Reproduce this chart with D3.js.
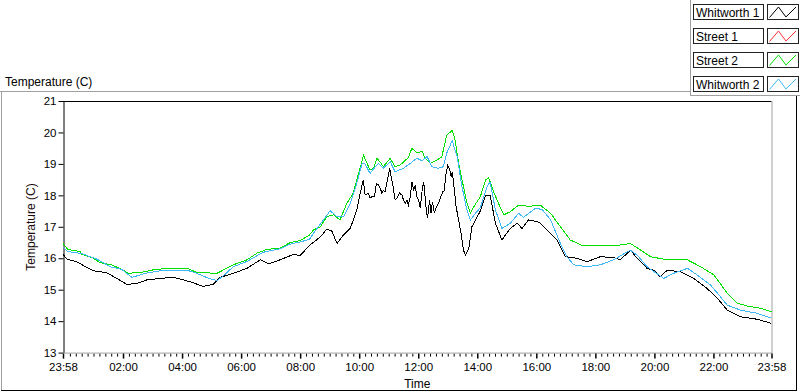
<!DOCTYPE html>
<html><head><meta charset="utf-8">
<script src="https://cdn.jsdelivr.net/npm/d3@7"></script>
<style>
html,body{margin:0;padding:0;background:#fff;}
svg{display:block;font-family:"Liberation Sans",Arial,sans-serif;}
</style></head>
<body>
<svg id="chart" width="800" height="392"></svg>
<script>
// ---- data (minutes since 23:58 start, temperature in C) ----
const seriesNames = ["Whitworth 1", "Street 1", "Street 2", "Whitworth 2"];
const seriesColors = ["#000000", "#ff3030", "#00e000", "#40b8f8"];
const yTicks = [13, 14, 15, 16, 17, 18, 19, 20, 21];
const xTickLabels = ["23:58","02:00","04:00","06:00","08:00","10:00","12:00","14:00","16:00","18:00","20:00","22:00","23:58"];

const whitworth1Times = [0,8,28,48,62,89,109,130,150,170,197,224,245,265,285,306,319,346,374,401,418,441,468,482,502,523,536,546,557,570,584,590,597,601,604,610,612,614,621,624,628,633,637,641,645,648,651,655,658,664,667,671,675,679,684,689,692,696,699,702,706,709,713,716,719,723,726,730,733,736,738,741,745,748,751,755,759,763,768,772,775,778,782,786,789,791,794,799,804,809,814,818,825,831,842,848,859,868,879,892,909,923,933,946,967,984,1004,1021,1045,1065,1092,1119,1133,1153,1167,1187,1201,1214,1228,1255,1282,1309,1330,1350,1377,1411,1440];
const whitworth1Values = [16.12,15.97,15.89,15.71,15.60,15.54,15.36,15.17,15.20,15.31,15.36,15.39,15.31,15.22,15.10,15.18,15.39,15.52,15.68,15.95,15.82,15.95,16.12,16.09,16.42,16.68,16.92,16.88,16.47,16.74,16.95,17.22,17.53,17.85,18.07,18.47,18.28,18.01,18.07,17.91,17.96,17.96,18.38,18.33,18.22,18.07,18.15,18.12,18.38,18.86,18.59,18.28,17.85,17.91,18.07,18.01,17.85,17.75,17.85,17.69,17.96,18.43,18.17,18.33,17.96,17.85,17.59,18.17,18.43,17.96,17.59,17.27,17.85,17.43,17.80,17.43,17.64,17.75,17.96,18.12,18.15,18.65,18.96,18.81,18.59,18.75,18.38,17.64,17.22,16.79,16.26,16.10,16.32,17.0,17.32,17.50,18.01,18.01,17.11,16.58,16.95,17.11,16.95,17.22,17.15,16.90,16.58,16.05,16.0,15.89,16.05,16.02,15.95,16.26,16.0,15.68,15.62,15.41,15.62,15.57,15.36,15.04,14.73,14.35,14.14,14.06,13.93];

const street1Times = [];
const street1Values = [];

const street2Times = [0,10,35,38,62,75,99,119,133,167,183,211,252,272,313,325,346,374,394,414,441,462,482,501,509,523,536,550,563,577,590,597,608,611,614,624,631,638,645,651,665,675,685,696,702,709,719,730,736,746,760,770,780,791,797,804,814,821,828,835,848,859,865,875,885,896,909,926,946,970,991,1011,1031,1058,1092,1119,1153,1174,1194,1228,1269,1296,1323,1350,1370,1391,1418,1440];
const street2Values = [16.47,16.28,16.21,16.13,16.0,15.86,15.79,15.65,15.52,15.57,15.63,15.68,15.68,15.55,15.52,15.62,15.79,15.95,16.16,16.28,16.32,16.50,16.56,16.74,16.90,17.0,17.32,17.38,17.22,17.75,18.07,18.49,19.10,19.28,19.15,18.81,18.85,19.18,19.05,18.91,19.18,18.91,18.96,19.12,19.20,19.50,19.35,19.40,19.18,19.02,19.12,19.23,19.92,20.06,19.76,19.02,18.27,17.75,17.43,17.64,17.95,18.49,18.57,18.12,17.75,17.38,17.48,17.69,17.65,17.69,17.43,17.0,16.58,16.39,16.42,16.39,16.47,16.26,16.05,15.95,15.95,15.73,15.47,14.89,14.57,14.48,14.41,14.30];

const whitworth2Times = [0,10,38,69,96,119,140,167,204,252,272,296,313,326,346,374,407,441,462,482,501,509,543,557,570,584,597,608,614,624,635,641,651,665,675,692,706,719,730,740,750,763,773,780,791,801,811,821,828,838,848,862,868,879,892,909,926,936,960,974,991,1011,1024,1038,1065,1092,1119,1153,1167,1187,1221,1241,1269,1289,1316,1336,1350,1377,1411,1440];
const whitworth2Values = [16.36,16.21,16.15,15.97,15.73,15.65,15.39,15.52,15.62,15.62,15.52,15.36,15.29,15.44,15.73,15.90,16.19,16.30,16.45,16.52,16.60,16.79,17.51,17.32,17.32,17.75,18.38,19.02,19.0,18.70,18.91,19.02,18.86,19.07,18.75,18.86,19.02,19.18,19.10,19.23,18.91,18.86,18.91,19.34,19.74,19.23,18.27,17.53,17.22,17.43,17.60,18.27,18.43,17.53,16.95,17.11,17.43,17.30,17.59,17.55,17.22,16.47,16.05,15.79,15.73,15.79,15.95,16.26,16.10,15.73,15.36,15.52,15.68,15.47,15.15,14.78,14.51,14.35,14.25,14.09];

const seriesTimes = [whitworth1Times, street1Times, street2Times, whitworth2Times];
const seriesValues = [whitworth1Values, street1Values, street2Values, whitworth2Values];

// ---- layout ----
const svg = d3.select("#chart");
const plotL = 63, plotR = 771.5, plotT = 101, plotB = 352.6;
const start = new Date(2000, 0, 1, 23, 58);
const end = new Date(+start + 1440 * 60000);
const toDate = m => new Date(+start + m * 60000);

const x = d3.scaleTime().domain([start, end]).range([plotL, plotR]);
const y = d3.scaleLinear().domain([13, 21]).range([plotB, plotT]);

// outer frame
svg.append("line").attr("x1",0).attr("x2",690).attr("y1",91.5).attr("y2",91.5).attr("stroke","#a0a0a0");
svg.append("line").attr("x1",1.5).attr("x2",1.5).attr("y1",91).attr("y2",391).attr("stroke","#a0a0a0");
svg.append("line").attr("x1",1).attr("x2",797).attr("y1",390.5).attr("y2",390.5).attr("stroke","#000");
svg.append("line").attr("x1",796.5).attr("x2",796.5).attr("y1",95).attr("y2",391).attr("stroke","#000");
svg.append("line").attr("x1",690.5).attr("x2",690.5).attr("y1",0).attr("y2",96).attr("stroke","#a0a0a0");
svg.append("line").attr("x1",690).attr("x2",800).attr("y1",95.5).attr("y2",95.5).attr("stroke","#a0a0a0");

// chart title
svg.append("text").attr("x",5).attr("y",86).attr("font-size",12).attr("fill","#000").text("Temperature (C)");

// plot background & borders
svg.append("rect").attr("x",plotL).attr("y",plotT).attr("width",plotR-plotL).attr("height",plotB-plotT).attr("fill","#fff");
svg.append("line").attr("x1",plotL).attr("x2",plotR).attr("y1",plotT+0.5).attr("y2",plotT+0.5).attr("stroke","#000");
svg.append("line").attr("x1",plotR+0.5).attr("x2",plotR+0.5).attr("y1",plotT).attr("y2",plotB+1).attr("stroke","#a0a0a0");

// y axis
const yAxis = svg.append("g").attr("transform",`translate(${plotL+0.5},0)`)
  .call(d3.axisLeft(y).tickValues(yTicks).tickSize(5).tickSizeOuter(0).tickPadding(2).tickFormat(d3.format("d")));
yAxis.select(".domain").attr("stroke","#000");
yAxis.selectAll(".tick line").attr("stroke","#000");
yAxis.selectAll("text").attr("font-size",11.5).attr("fill","#000").attr("font-family","Liberation Sans, Arial, sans-serif");

svg.append("text").attr("transform","translate(35,227) rotate(-90)").attr("text-anchor","middle")
  .attr("font-size",12).attr("fill","#1a0a0a").text("Temperature (C)");

// x axis
const majorDates = [start];
for (let h = 2; h <= 22; h += 2) majorDates.push(new Date(2000, 0, 2, h, 0));
majorDates.push(end);
const minorDates = d3.timeMinute.every(12).range(start, end)
  .filter(d => majorDates.every(m => Math.abs(d - m) > 4 * 60000));

const xMinor = svg.append("g").attr("transform",`translate(0,${plotB})`)
  .call(d3.axisBottom(x).tickValues(minorDates).tickSize(3).tickSizeOuter(0).tickFormat(""));
xMinor.select(".domain").remove();
xMinor.selectAll(".tick line").attr("stroke","#000").attr("transform","translate(0,1)");

const xAxis = svg.append("g").attr("transform",`translate(0,${plotB})`)
  .call(d3.axisBottom(x).tickValues(majorDates).tickSize(5).tickSizeOuter(0).tickPadding(5)
    .tickFormat((d, i) => xTickLabels[i]));
xAxis.select(".domain").attr("stroke","#a0a0a0");
xAxis.selectAll(".tick line").attr("stroke","#000").attr("stroke-width",1.5).attr("transform","translate(0,1)");
xAxis.selectAll("text").attr("font-size",11.5).attr("fill","#000").attr("font-family","Liberation Sans, Arial, sans-serif");

svg.append("text").attr("x",(plotL+plotR)/2).attr("y",388).attr("text-anchor","middle")
  .attr("font-size",12).attr("fill","#000").text("Time");

// lines
const line = d3.line().x(d => x(toDate(d[0]))).y(d => y(d[1]));
const plotG = svg.append("g");
seriesNames.forEach((name, i) => {
  const pts = seriesTimes[i].map((t, j) => [t, seriesValues[i][j]]);
  if (!pts.length) return;
  plotG.append("path").datum(pts).attr("d", line)
    .attr("fill","none").attr("stroke",seriesColors[i]).attr("stroke-width",1)
    .attr("shape-rendering","crispEdges");
});

// legend
const lg = svg.append("g");
seriesNames.forEach((name, i) => {
  const ty = 4 + i * 24;
  lg.append("rect").attr("x",693.5).attr("y",ty+0.5).attr("width",70).attr("height",15)
    .attr("fill","#fff").attr("stroke","#222");
  lg.append("text").attr("x",696).attr("y",ty+12.5).attr("font-size",12).attr("fill","#000").text(name);
  lg.append("rect").attr("x",767.5).attr("y",ty+0.5).attr("width",31).attr("height",15)
    .attr("fill","#fff").attr("stroke","#222");
  const ix = d3.scaleLinear().domain([0,1]).range([769.5, 796]);
  const iy = d3.scaleLinear().domain([0,1]).range([ty+13.5, ty+3]);
  const icon = [[0,0],[0.34,1],[0.62,0.05],[1,1]];
  lg.append("path").attr("d", d3.line().x(d => ix(d[0])).y(d => iy(d[1]))(icon))
    .attr("fill","none").attr("stroke",seriesColors[i]).attr("stroke-width",1);
});
</script>
</body></html>
